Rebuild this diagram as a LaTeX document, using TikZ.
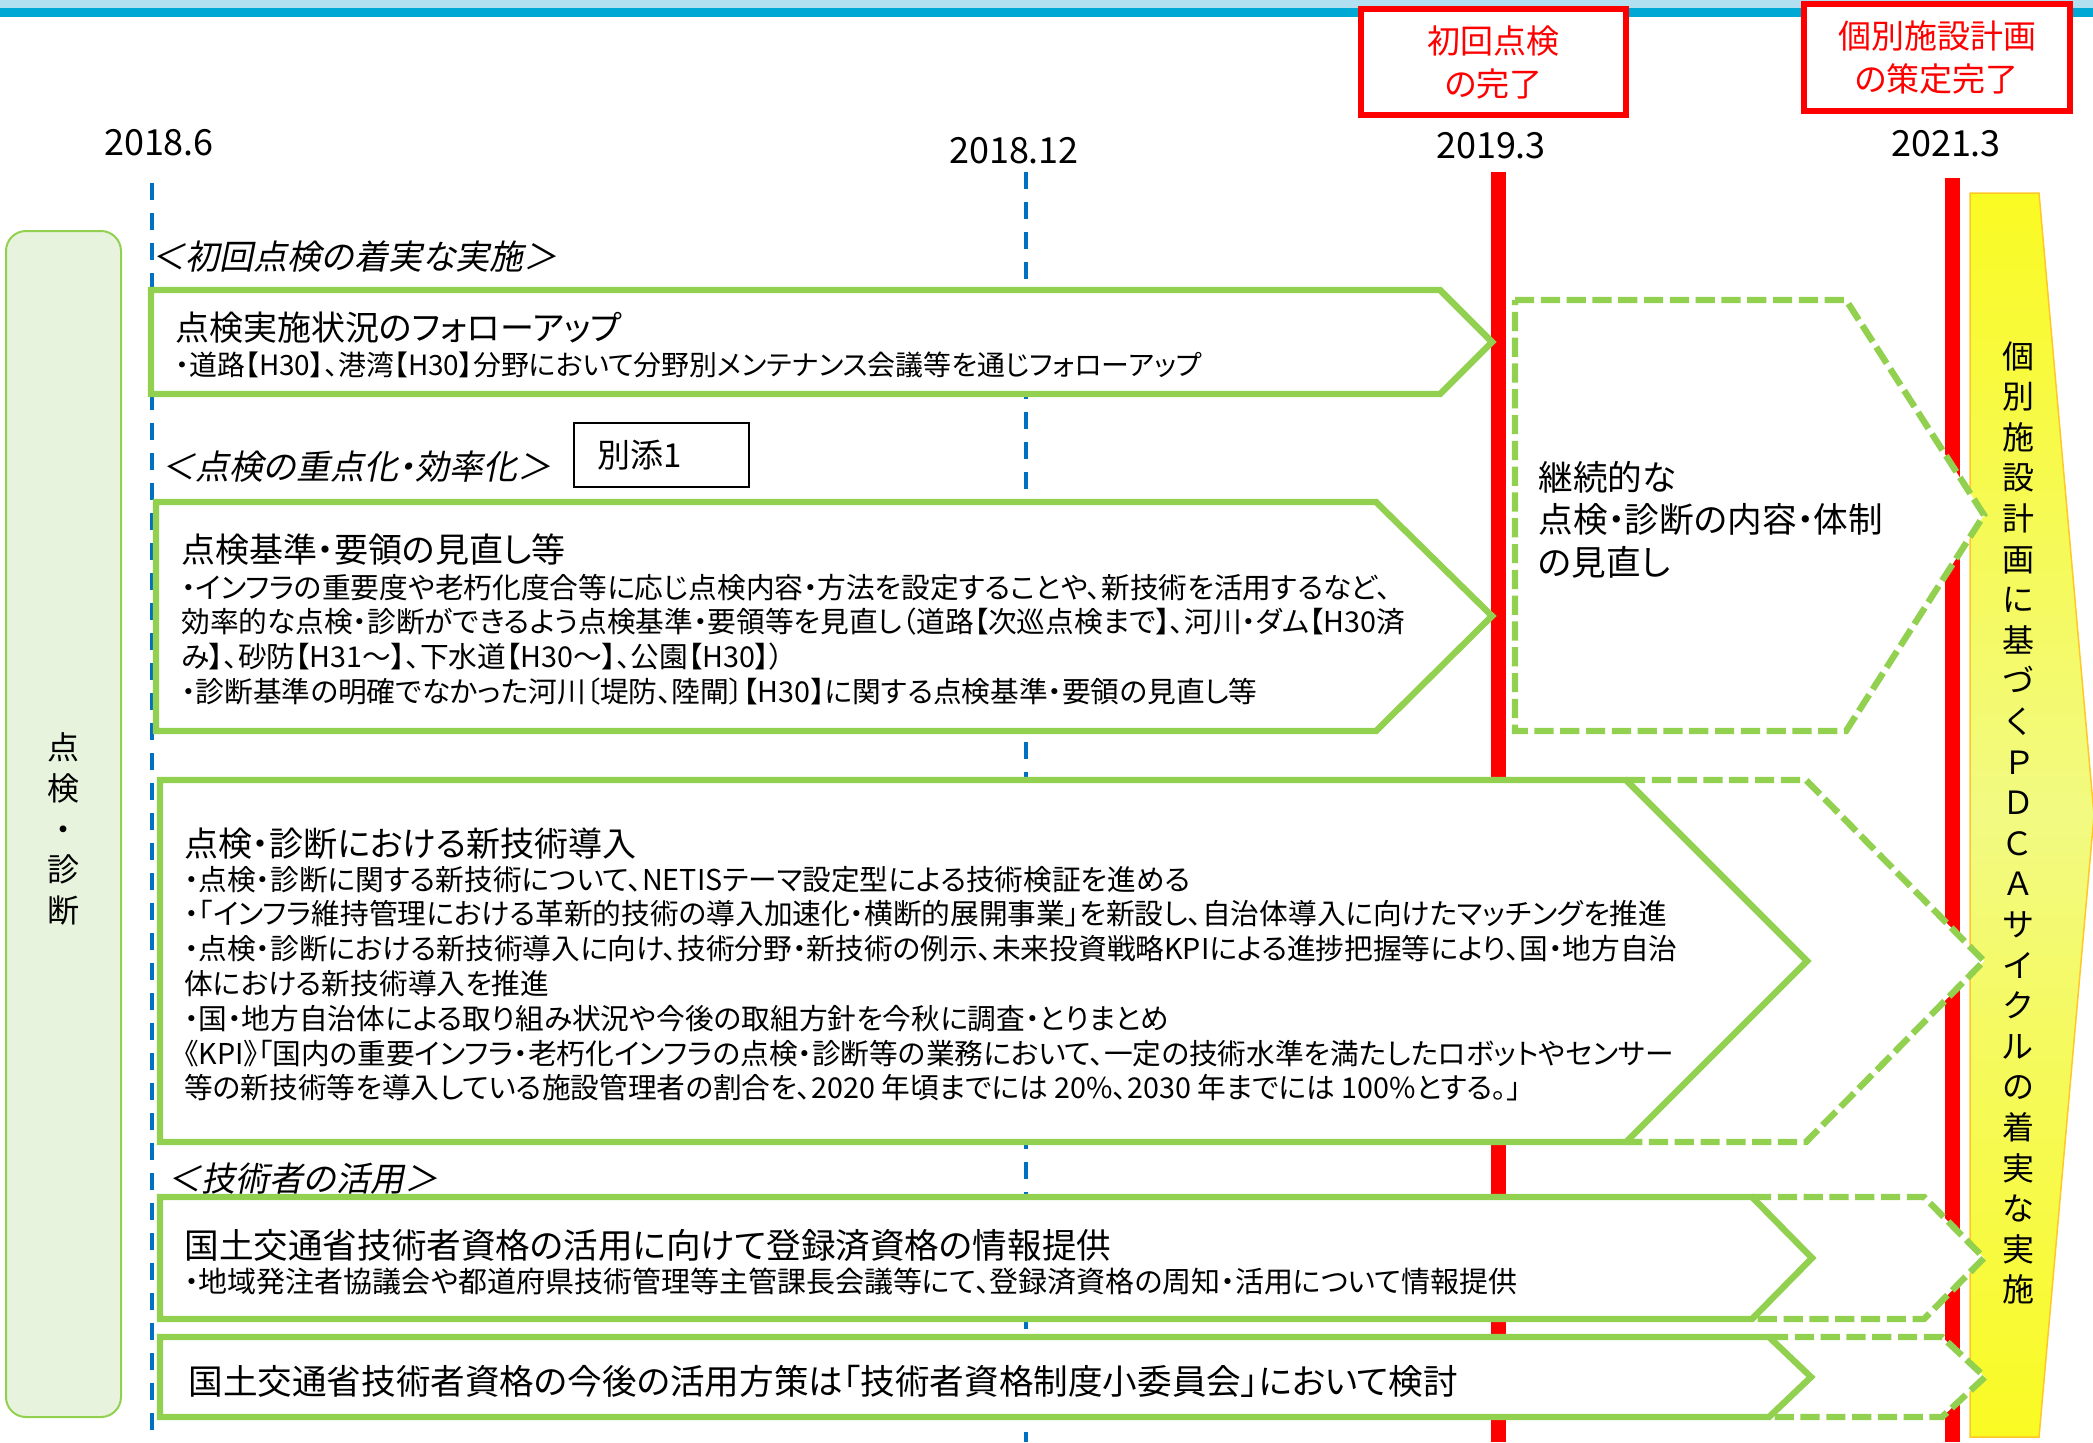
\documentclass[tikz,border=0pt]{standalone}
\usepackage{fontspec}
\setmainfont{Noto Sans CJK JP}[RawFeature={+palt}]
\newfontfamily\jpit{Noto Sans CJK JP}[FakeSlant=0.2,RawFeature={+palt}]
\usetikzlibrary{positioning}
\definecolor{grn}{RGB}{146,208,80}
\definecolor{lgrn}{RGB}{232,243,222}
\definecolor{tlblue}{RGB}{0,112,192}
\definecolor{barblue}{RGB}{0,168,214}
\definecolor{barlight}{RGB}{178,224,240}
\definecolor{ylw}{RGB}{250,250,35}
\definecolor{pylw}{RGB}{242,250,130}
\definecolor{yedge}{RGB}{255,200,40}

\begin{document}
\begin{tikzpicture}[x=0.5pt, y=-0.5pt,
chev/.style={draw=grn, line width=3.2pt, fill=white},
dchev/.style={chev, dash pattern=on 9.6pt off 3.3pt},
tline/.style={draw=tlblue, line width=2pt, dash pattern=on 8.5pt off 6.5pt},
mline/.style={draw=red, line width=7.5pt},
date/.style={font=\fontsize{18}{20}\selectfont, inner sep=0pt},
goal/.style={draw=red, line width=3pt, fill=white, text=red, align=center, font=\fontsize{16.5}{21.5}\selectfont, inner sep=0pt},
hdr/.style={font=\jpit\fontsize{17}{20}\selectfont, anchor=west, inner sep=0pt},
ttl/.style={font=\fontsize{17}{20}\selectfont, anchor=west, inner sep=0pt},
body/.style={font=\fontsize{14.35}{17.4}\selectfont, anchor=north west, align=left, inner sep=0pt},
vtxt/.style={align=center, inner sep=0pt, font=\fontsize{16}{20.3}\selectfont}]

\fill[white] (0,0) rectangle (2093,1442);
\useasboundingbox (0,0) rectangle (2093,1442);
\fill[barlight] (0,0) rectangle (2093,8);
\fill[barblue] (0,8) rectangle (2093,17);

% time lines
\draw[tline] (152,183) -- (152,1442);
\draw[tline] (1026,172) -- (1026,1442);
\draw[mline] (1498,172) -- (1498,1442);
\draw[mline] (1952,178) -- (1952,1442);

% PDCA band
\draw[yedge, line width=0.75pt, top color=ylw, bottom color=ylw, middle color=pylw]
  (1970,193) -- (2039,193) -- (2094,815) -- (2039,1437) -- (1970,1437) -- cycle;

\node[draw=grn, line width=1pt, fill=lgrn, rounded corners=10pt, minimum width=57.5pt, minimum height=593pt, vtxt, font=\fontsize{16}{20.4}\selectfont] (kind) at (63.5,824) {};
\node[vtxt, font=\fontsize{16}{20.4}\selectfont] (kindtxt) at (kind.center) [yshift=-2.5pt] {点\\検\\・\\診\\断};

% dashed follow-up arrows
\draw[dchev] (1515,300) -- (1846,300) -- (1984,515) -- (1846,731) -- (1515,731) -- cycle;
\draw[dchev] (1626,780) -- (1806,780) -- (1984,961) -- (1806,1142) -- (1626,1142);
\draw[dchev] (1752,1197) -- (1924,1197) -- (1984,1258) -- (1924,1319) -- (1752,1319);
\draw[dchev] (1769,1337) -- (1942,1337) -- (1985,1377) -- (1942,1417) -- (1769,1417);

% solid arrows
\draw[chev] (151,290) -- (1440,290) -- (1492,342) -- (1440,394) -- (151,394) -- cycle;
\draw[chev] (156,502) -- (1376,502) -- (1492,616) -- (1376,731) -- (156,731) -- cycle;
\draw[chev] (160,780) -- (1626,780) -- (1807,961) -- (1626,1142) -- (160,1142) -- cycle;
\draw[chev] (160,1197) -- (1752,1197) -- (1812,1258) -- (1752,1319) -- (160,1319) -- cycle;
\draw[chev] (160,1337) -- (1769,1337) -- (1811,1377) -- (1769,1417) -- (160,1417) -- cycle;

\node[date] (d1) at (159,143) {2018.6};
\node[date] (d2) at (1014,151) {2018.12};
\node[date] (d3) at (1491,146) {2019.3};
\node[date] (d4) at (1946,144) {2021.3};

\node[goal, minimum width=132.5pt, minimum height=53pt] (g1) at (1493.5,62) {初回点検\\の完了};
\node[goal, minimum width=133pt, minimum height=53.5pt] (g2) at (1937,57.5) {個別施設計画\\の策定完了};

\node[hdr] (h1) at (151,257) {＜初回点検の着実な実施＞};
\node[hdr] (h2) at (161,467) {＜点検の重点化・効率化＞};
\node[draw, line width=1pt, anchor=west, minimum height=32pt, text width=64.5pt, inner xsep=11.5pt, inner ysep=0pt, font=\fontsize{16.5}{20}\selectfont] (att) at (573,455) {別添1};
\node[hdr] (h3) at (167,1179) {＜技術者の活用＞};

\node[ttl] (t1) at (175,328) {点検実施状況のフォローアップ};
\node[body, anchor=west, font=\fontsize{13.95}{17}\selectfont] (b1) at (175,365) {・道路【H30】、港湾【H30】分野において分野別メンテナンス会議等を通じフォローアップ};

\node[ttl] (t2) at (181,550) {点検基準・要領の見直し等};
\node[body] (b2) at (181,573.5) {・インフラの重要度や老朽化度合等に応じ点検内容・方法を設定することや、新技術を活用するなど、\\
効率的な点検・診断ができるよう点検基準・要領等を見直し（道路【次巡点検まで】、河川・ダム【H30済\\
み】、砂防【H31～】、下水道【H30～】、公園【H30】）\\
・診断基準の明確でなかった河川〔堤防、陸閘〕【H30】に関する点検基準・要領の見直し等};

\node[ttl] (t3) at (184,844) {点検・診断における新技術導入};
\node[body] (b3) at (184,865.5) {・点検・診断に関する新技術について、NETISテーマ設定型による技術検証を進める\\
・「インフラ維持管理における革新的技術の導入加速化・横断的展開事業」を新設し、自治体導入に向けたマッチングを推進\\
・点検・診断における新技術導入に向け、技術分野・新技術の例示、未来投資戦略KPIによる進捗把握等により、国・地方自治\\
体における新技術導入を推進\\
・国・地方自治体による取り組み状況や今後の取組方針を今秋に調査・とりまとめ\\
《KPI》「国内の重要インフラ・老朽化インフラの点検・診断等の業務において、一定の技術水準を満たしたロボットやセンサー\\
等の新技術等を導入している施設管理者の割合を、2020 年頃までには 20\%、2030 年までには 100\%とする。」};

\node[ttl, font=\fontsize{17.3}{20}\selectfont] (t4) at (184,1245) {国土交通省技術者資格の活用に向けて登録済資格の情報提供};
\node[body, anchor=west, font=\fontsize{14.5}{18}\selectfont] (b4) at (184,1282) {・地域発注者協議会や都道府県技術管理等主管課長会議等にて、登録済資格の周知・活用について情報提供};

\node[ttl, font=\fontsize{17.3}{20}\selectfont] (t5) at (188,1381) {国土交通省技術者資格の今後の活用方策は「技術者資格制度小委員会」において検討};

\node[body, font=\fontsize{17.3}{21.25}\selectfont] (rev) at (1538,460.5) {継続的な\\点検・診断の内容・体制\\の見直し};

\node[vtxt] (pdca) at (2018,823) {個\\別\\施\\設\\計\\画\\に\\基\\づ\\く\\Ｐ\\Ｄ\\Ｃ\\Ａ\\サ\\イ\\ク\\ル\\の\\着\\実\\な\\実\\施};

\end{tikzpicture}
\end{document}
